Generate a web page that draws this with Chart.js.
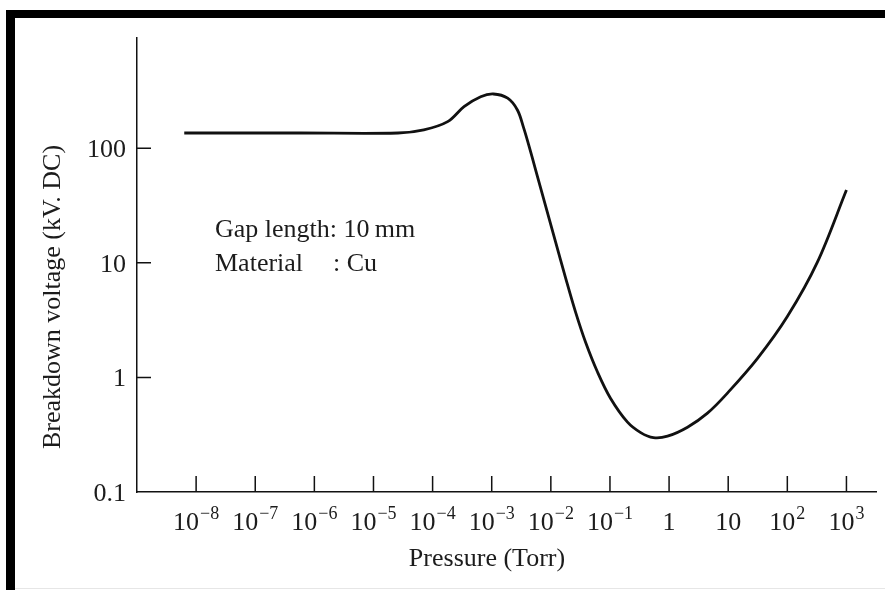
<!DOCTYPE html>
<html>
<head>
<meta charset="utf-8">
<script src="https://cdn.jsdelivr.net/npm/chart.js@4.4.1/dist/chart.umd.min.js"></script>
<style>
  body { margin: 0; background: #fff; }
  canvas { display: block; }
</style>
</head>
<body>
<canvas id="myChart" width="885" height="590"></canvas>
<script>
// values: pressure (Torr) vs breakdown voltage (kV, DC)
const pressure = [6.3e-9, 5.9e-7, 2.6e-5, 7.1e-5, 1.8e-4, 3.4e-4, 6.5e-4, 1.07e-3, 1.86e-3, 2.72e-3,
  3.48e-3, 4.22e-3, 5.54e-3, 8.17e-3, 0.01205, 0.0178, 0.0262, 0.0387, 0.0618, 0.102,
  0.198, 0.331, 0.544, 0.94, 2.05, 4.46, 9.7, 31.1, 100, 321, 1000];
const voltage = [136, 136, 136, 145, 171, 231, 282, 298, 274, 216,
  150, 107, 64.6, 31.3, 15.2, 7.37, 3.72, 2.03, 1.11, 0.659,
  0.407, 0.33, 0.298, 0.307, 0.368, 0.488, 0.73, 1.46, 3.4, 10.1, 43.3];

// tick labels
const xTicks = [1e-8, 1e-7, 1e-6, 1e-5, 1e-4, 1e-3, 1e-2, 1e-1, 1, 10, 100, 1000];
const xTickBase = ["10", "10", "10", "10", "10", "10", "10", "10", "1", "10", "10", "10"];
const xTickExp = ["\u22128", "\u22127", "\u22126", "\u22125", "\u22124", "\u22123", "\u22122", "\u22121", "", "", "2", "3"];
const yTicks = [0.1, 1, 10, 100];
const yTickLabels = ["0.1", "1", "10", "100"];

const xTitle = "Pressure (Torr)";
const yTitle = "Breakdown voltage (kV. DC)";
const note = ["Gap length: 10\u2009mm", "Material", ": Cu"];

const FONT = '"Liberation Serif", "Times New Roman", serif';
const INK = "#1c1c1c";

const paperPlugin = {
  id: "paper",
  beforeDraw(chart) {
    const c = chart.ctx;
    c.save();
    c.fillStyle = "#fff";
    c.fillRect(0, 0, chart.width, chart.height);
    // black frame of the scanned figure
    c.fillStyle = "#000";
    c.fillRect(6, 10, 879, 8);
    c.fillRect(6, 10, 9, 580);
    c.fillStyle = "#e6e6e6";
    c.fillRect(15, 588, 870, 1);
    c.restore();
  },
  afterDraw(chart) {
    const c = chart.ctx;
    const xs = chart.scales.x, ys = chart.scales.y;
    const area = chart.chartArea;
    c.save();

    // inward ticks (the 0.1 one sits on the x axis, skip it)
    c.strokeStyle = "#111";
    c.lineWidth = 1.5;
    c.beginPath();
    xTicks.forEach((v) => {
      const px = xs.getPixelForValue(v);
      c.moveTo(px, area.bottom);
      c.lineTo(px, area.bottom - 16);
    });
    yTicks.slice(1).forEach((v) => {
      const py = ys.getPixelForValue(v);
      c.moveTo(area.left, py);
      c.lineTo(area.left + 14, py);
    });
    c.stroke();

    c.fillStyle = INK;
    c.textBaseline = "alphabetic";

    // x tick labels with superscripts
    xTicks.forEach((v, i) => {
      const px = xs.getPixelForValue(v);
      c.font = "26px " + FONT;
      const wb = c.measureText(xTickBase[i]).width;
      c.font = "18px " + FONT;
      const we = xTickExp[i] ? c.measureText(xTickExp[i]).width + 1 : 0;
      const x0 = px - (wb + we) / 2;
      c.textAlign = "left";
      c.font = "26px " + FONT;
      c.fillText(xTickBase[i], x0, 530);
      if (xTickExp[i]) {
        c.font = "18px " + FONT;
        c.fillText(xTickExp[i], x0 + wb + 1, 519);
      }
    });

    // y tick labels
    c.font = "26px " + FONT;
    c.textAlign = "right";
    yTicks.forEach((v, i) => {
      const py = ys.getPixelForValue(v);
      c.fillText(yTickLabels[i], 126, py + 9);
    });

    // axis titles
    c.textAlign = "center";
    c.fillText(xTitle, 487, 566);
    c.save();
    c.translate(60, 297);
    c.rotate(-Math.PI / 2);
    c.fillText(yTitle, 0, 0);
    c.restore();

    // annotation
    c.textAlign = "left";
    c.fillText(note[0], 215, 237);
    c.fillText(note[1], 215, 271);
    c.fillText(note[2], 333, 271);

    c.restore();
  },
};

const ctx = document.getElementById("myChart").getContext("2d");
const myChart = new Chart(ctx, {
  type: "line",
  data: {
    datasets: [
      {
        data: pressure.map((p, i) => ({ x: p, y: voltage[i] })),
        borderColor: "#111",
        borderWidth: 2.8,
        pointRadius: 0,
        tension: 0.35,
        fill: false,
      },
    ],
  },
  options: {
    responsive: false,
    animation: false,
    devicePixelRatio: 1,
    layout: { padding: { top: 38, right: 9, left: 0, bottom: 0 } },
    plugins: { legend: { display: false }, tooltip: { enabled: false } },
    scales: {
      x: {
        type: "logarithmic",
        min: 1e-9,
        max: 3162,
        afterBuildTicks: (scale) => {
          scale.ticks = xTicks.map((v) => ({ value: v }));
        },
        afterFit: (scale) => {
          scale.height = 98;
        },
        ticks: { display: false },
        grid: { drawOnChartArea: false, drawTicks: false },
        border: { color: "#111", width: 1.5 },
      },
      y: {
        type: "logarithmic",
        min: 0.1,
        max: 918,
        afterBuildTicks: (scale) => {
          scale.ticks = yTicks.map((v) => ({ value: v }));
        },
        afterFit: (scale) => {
          scale.width = 137;
        },
        ticks: { display: false },
        grid: { drawOnChartArea: false, drawTicks: false },
        border: { color: "#111", width: 1.5 },
      },
    },
  },
  plugins: [paperPlugin],
});
</script>
</body>
</html>
